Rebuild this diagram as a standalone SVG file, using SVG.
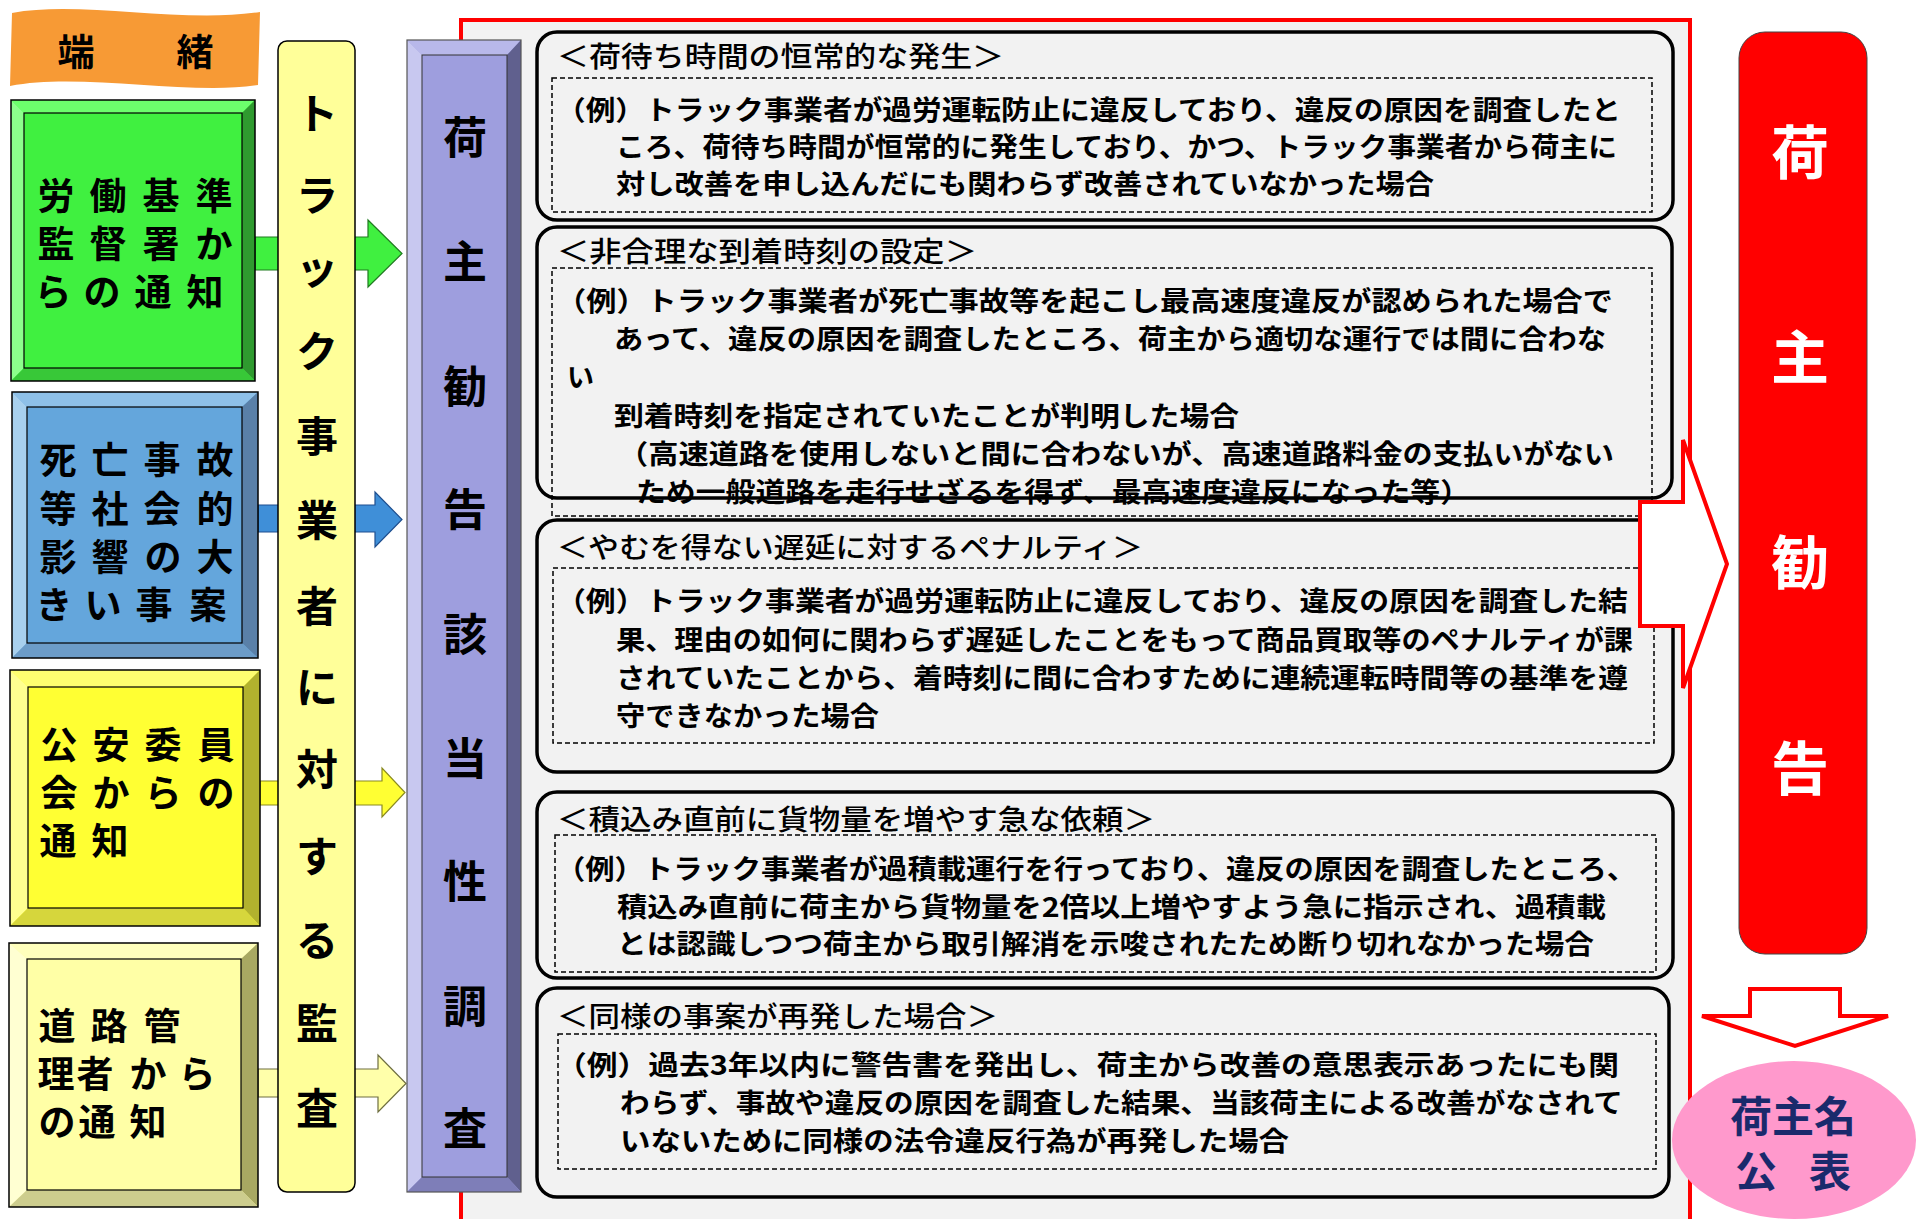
<svg xmlns="http://www.w3.org/2000/svg" width="1923" height="1219" viewBox="0 0 1923 1219">
<style>
.jp{font-family:"Noto Sans CJK JP","Noto Sans CJK SC",sans-serif;}
.lbl{font-size:37px;font-weight:bold;fill:#000;text-anchor:middle;}
.col{font-size:42px;font-weight:bold;fill:#000;text-anchor:middle;}
.pur{font-size:44px;font-weight:bold;fill:#000;text-anchor:middle;}
.red{font-size:58px;font-weight:bold;fill:#fff;text-anchor:middle;}
.hd{font-size:28px;font-weight:500;fill:#000;}
.bd{font-size:27px;font-weight:bold;fill:#000;}
.card{fill:#F2F2F2;stroke:#000;stroke-width:3.5;}
.dash{fill:none;stroke:#000;stroke-width:1.5;stroke-dasharray:5 3;}
.bev{stroke:none;}
.rarrow{fill:#fff;stroke:#FF0000;stroke-width:4;stroke-linejoin:miter;}
</style>

<!-- red panel -->
<g id="panel">
<rect x="461" y="20" width="1229" height="1230" fill="#F2F2F2" stroke="#FF0000" stroke-width="4"/>
</g>

<!-- connectors -->
<g id="connectors">
<polygon points="255,237 368,237 368,220 402,253.5 368,287 368,270 255,270" fill="#40F040" stroke="#1F7A1F" stroke-width="1.2"/>
<polygon points="258,505 375,505 375,492 402,519.5 375,547 375,532 258,532" fill="#3F8FD8" stroke="#1F4F8F" stroke-width="1.2"/>
<polygon points="260,781 382,781 382,768 405,792.5 382,817 382,805 260,805" fill="#FFFF33" stroke="#8A8A20" stroke-width="1.2"/>
<polygon points="258,1069 378,1069 378,1055 406,1083.5 378,1112 378,1097 258,1097" fill="#FFFFAA" stroke="#6E6E40" stroke-width="1.2"/>
</g>

<!-- banner -->
<g id="banner">
<path d="M12,13 C80,0 180,24 260,12 L258,85 C190,96 80,72 10,86 Z" fill="#F79A35"/>
<text class="jp lbl" x="76" y="66">端</text>
<text class="jp lbl" x="195" y="66">緒</text>
</g>

<!-- green box -->
<g id="node-roudou">
<rect x="11" y="100" width="244" height="281" fill="#40F040"/>
<polygon class="bev" points="11,100 255,100 242,113 24,113" fill="#6CFF6C"/>
<polygon class="bev" points="11,100 24,113 24,368 11,381" fill="#8CFF8C"/>
<polygon class="bev" points="255,100 255,381 242,368 242,113" fill="#2F9A2F"/>
<polygon class="bev" points="11,381 255,381 242,368 24,368" fill="#38C838"/>
<rect x="24" y="113" width="218" height="255" fill="none" stroke="#000" stroke-width="1.2"/>
<rect x="11" y="100" width="244" height="281" fill="none" stroke="#000" stroke-width="1.5"/>
<text class="jp lbl" x="56 108 161 214" y="210">労働基準</text>
<text class="jp lbl" x="56 108 161 214" y="258">監督署か</text>
<text class="jp lbl" x="53 102 153 205" y="306">らの通知</text>
</g>

<!-- blue box -->
<g id="node-shibou">
<rect x="12" y="392" width="246" height="266" fill="#64A6DC"/>
<polygon class="bev" points="12,392 258,392 242,407 27,407" fill="#8EC0E8"/>
<polygon class="bev" points="12,392 27,407 27,643 12,658" fill="#A8D0EE"/>
<polygon class="bev" points="258,392 258,658 242,643 242,407" fill="#5A80A8"/>
<polygon class="bev" points="12,658 258,658 242,643 27,643" fill="#6C9CC8"/>
<rect x="27" y="407" width="215" height="236" fill="none" stroke="#000" stroke-width="1.2"/>
<rect x="12" y="392" width="246" height="266" fill="none" stroke="#000" stroke-width="1.5"/>
<text class="jp lbl" x="58 110 162 215" y="474">死亡事故</text>
<text class="jp lbl" x="58 110 162 215" y="523">等社会的</text>
<text class="jp lbl" x="58 110 163 215" y="571">影響の大</text>
<text class="jp lbl" x="54 103 154 208" y="619">きい事案</text>
</g>

<!-- yellow box -->
<g id="node-kouan">
<rect x="10" y="670" width="250" height="256" fill="#FFFF33"/>
<polygon class="bev" points="10,670 260,670 243,687 28,687" fill="#FFFF70"/>
<polygon class="bev" points="10,670 28,687 28,908 10,926" fill="#FFFF90"/>
<polygon class="bev" points="260,670 260,926 243,908 243,687" fill="#B2B22E"/>
<polygon class="bev" points="10,926 260,926 243,908 28,908" fill="#D6D63C"/>
<rect x="28" y="687" width="215" height="221" fill="none" stroke="#000" stroke-width="1.2"/>
<rect x="10" y="670" width="250" height="256" fill="none" stroke="#000" stroke-width="1.5"/>
<text class="jp lbl" x="59 111 163 216" y="759">公安委員</text>
<text class="jp lbl" x="59 111 163 216" y="807">会からの</text>
<text class="jp lbl" x="58 110" y="855">通知</text>
</g>

<!-- road box -->
<g id="node-douro">
<rect x="9" y="943" width="249" height="264" fill="#FFFFA6"/>
<polygon class="bev" points="9,943 258,943 241,959 27,959" fill="#FFFFBC"/>
<polygon class="bev" points="9,943 27,959 27,1190 9,1207" fill="#FFFFD2"/>
<polygon class="bev" points="258,943 258,1207 241,1190 241,959" fill="#A8A862"/>
<polygon class="bev" points="9,1207 258,1207 241,1190 27,1190" fill="#CDCD8E"/>
<rect x="27" y="959" width="214" height="231" fill="none" stroke="#000" stroke-width="1.2"/>
<rect x="9" y="943" width="249" height="264" fill="none" stroke="#000" stroke-width="1.5"/>
<text class="jp lbl" x="57 109 162" y="1040">道路管</text>
<text class="jp lbl" x="56 95 148 197" y="1088">理者から</text>
<text class="jp lbl" x="57 97 148" y="1136">の通知</text>
</g>

<!-- yellow column -->
<g id="node-kansa">
<rect x="278" y="41" width="77" height="1151" rx="9" fill="#FFFF99" stroke="#000" stroke-width="1.5"/>
<text class="jp col" x="317" y="129">ト</text>
<text class="jp col" x="317" y="211">ラ</text>
<text class="jp col" x="317" y="284">ッ</text>
<text class="jp col" x="317" y="367">ク</text>
<text class="jp col" x="317" y="452">事</text>
<text class="jp col" x="317" y="536">業</text>
<text class="jp col" x="317" y="622">者</text>
<text class="jp col" x="317" y="703">に</text>
<text class="jp col" x="317" y="785">対</text>
<text class="jp col" x="317" y="872">す</text>
<text class="jp col" x="317" y="956">る</text>
<text class="jp col" x="317" y="1039">監</text>
<text class="jp col" x="317" y="1124">査</text>
</g>

<!-- purple column -->
<g id="node-chousa">
<rect x="407" y="40" width="114" height="1152" fill="#9E9EDE"/>
<polygon class="bev" points="407,40 521,40 507,55 422,55" fill="#B8B8EA"/>
<polygon class="bev" points="407,40 422,55 422,1177 407,1192" fill="#C8C8F0"/>
<polygon class="bev" points="521,40 521,1192 507,1177 507,55" fill="#60608E"/>
<polygon class="bev" points="407,1192 521,1192 507,1177 422,1177" fill="#7E7EB8"/>
<rect x="422" y="55" width="85" height="1122" fill="none" stroke="#333" stroke-width="1"/>
<rect x="407" y="40" width="114" height="1152" fill="none" stroke="#555" stroke-width="1.2"/>
<text class="jp pur" x="465" y="154">荷</text>
<text class="jp pur" x="465" y="278">主</text>
<text class="jp pur" x="465" y="403">勧</text>
<text class="jp pur" x="465" y="526">告</text>
<text class="jp pur" x="465" y="651">該</text>
<text class="jp pur" x="465" y="775">当</text>
<text class="jp pur" x="465" y="898">性</text>
<text class="jp pur" x="465" y="1023">調</text>
<text class="jp pur" x="465" y="1145">査</text>
</g>

<!-- case 1 -->
<g id="case-1">
<rect class="card" x="537" y="32" width="1136" height="188" rx="20"/>
<rect class="dash" x="552" y="78" width="1100" height="134"/>
<text class="jp hd" x="557" y="67" textLength="447" lengthAdjust="spacingAndGlyphs">＜荷待ち時間の恒常的な発生＞</text>
<text class="jp bd" x="556" y="120" textLength="1065" lengthAdjust="spacingAndGlyphs">（例）トラック事業者が過労運転防止に違反しており、違反の原因を調査したと</text>
<text class="jp bd" x="616" y="157" textLength="1001" lengthAdjust="spacingAndGlyphs">ころ、荷待ち時間が恒常的に発生しており、かつ、トラック事業者から荷主に</text>
<text class="jp bd" x="616" y="194" textLength="818" lengthAdjust="spacingAndGlyphs">対し改善を申し込んだにも関わらず改善されていなかった場合</text>
</g>

<!-- case 2 -->
<g id="case-2">
<rect class="card" x="537" y="227" width="1135" height="271" rx="20"/>
<rect class="dash" x="552" y="268" width="1100" height="248"/>
<text class="jp hd" x="557" y="262" textLength="420" lengthAdjust="spacingAndGlyphs">＜非合理な到着時刻の設定＞</text>
<text class="jp bd" x="556" y="311" textLength="1057" lengthAdjust="spacingAndGlyphs">（例）トラック事業者が死亡事故等を起こし最高速度違反が認められた場合で</text>
<text class="jp bd" x="614" y="349" textLength="992" lengthAdjust="spacingAndGlyphs">あって、違反の原因を調査したところ、荷主から適切な運行では間に合わな</text>
<text class="jp bd" x="567" y="387">い</text>
<text class="jp bd" x="614" y="426" textLength="625" lengthAdjust="spacingAndGlyphs">到着時刻を指定されていたことが判明した場合</text>
<text class="jp bd" x="618" y="464" textLength="996" lengthAdjust="spacingAndGlyphs">（高速道路を使用しないと間に合わないが、高速道路料金の支払いがない</text>
<text class="jp bd" x="636" y="502" textLength="834" lengthAdjust="spacingAndGlyphs">ため一般道路を走行せざるを得ず、最高速度違反になった等）</text>
</g>

<!-- case 3 -->
<g id="case-3">
<rect class="card" x="537" y="520" width="1136" height="252" rx="20"/>
<rect class="dash" x="553" y="568" width="1101" height="175"/>
<text class="jp hd" x="557" y="558" textLength="586" lengthAdjust="spacingAndGlyphs">＜やむを得ない遅延に対するペナルティ＞</text>
<text class="jp bd" x="556" y="611" textLength="1072" lengthAdjust="spacingAndGlyphs">（例）トラック事業者が過労運転防止に違反しており、違反の原因を調査した結</text>
<text class="jp bd" x="616" y="650" textLength="1017" lengthAdjust="spacingAndGlyphs">果、理由の如何に関わらず遅延したことをもって商品買取等のペナルティが課</text>
<text class="jp bd" x="616" y="688" textLength="1012" lengthAdjust="spacingAndGlyphs">されていたことから、着時刻に間に合わすために連続運転時間等の基準を遵</text>
<text class="jp bd" x="616" y="726" textLength="263" lengthAdjust="spacingAndGlyphs">守できなかった場合</text>
</g>

<!-- case 4 -->
<g id="case-4">
<rect class="card" x="537" y="792" width="1136" height="186" rx="20"/>
<rect class="dash" x="555" y="835" width="1101" height="137"/>
<text class="jp hd" x="557" y="830" textLength="598" lengthAdjust="spacingAndGlyphs">＜積込み直前に貨物量を増やす急な依頼＞</text>
<text class="jp bd" x="556" y="879" textLength="1080" lengthAdjust="spacingAndGlyphs">（例）トラック事業者が過積載運行を行っており、違反の原因を調査したところ、</text>
<text class="jp bd" x="617" y="917" textLength="989" lengthAdjust="spacingAndGlyphs">積込み直前に荷主から貨物量を2倍以上増やすよう急に指示され、過積載</text>
<text class="jp bd" x="617" y="954" textLength="977" lengthAdjust="spacingAndGlyphs">とは認識しつつ荷主から取引解消を示唆されたため断り切れなかった場合</text>
</g>

<!-- case 5 -->
<g id="case-5">
<rect class="card" x="537" y="988" width="1132" height="209" rx="20"/>
<rect class="dash" x="558" y="1034" width="1098" height="135"/>
<text class="jp hd" x="557" y="1027" textLength="441" lengthAdjust="spacingAndGlyphs">＜同様の事案が再発した場合＞</text>
<text class="jp bd" x="556" y="1075" textLength="1063" lengthAdjust="spacingAndGlyphs">（例）過去3年以内に警告書を発出し、荷主から改善の意思表示あったにも関</text>
<text class="jp bd" x="620" y="1113" textLength="1003" lengthAdjust="spacingAndGlyphs">わらず、事故や違反の原因を調査した結果、当該荷主による改善がなされて</text>
<text class="jp bd" x="620" y="1151" textLength="669" lengthAdjust="spacingAndGlyphs">いないために同様の法令違反行為が再発した場合</text>
</g>

<!-- big arrows -->
<g id="connectors-main">
<polygon class="rarrow" points="1640,502 1683,502 1683,440 1727,564 1683,688 1683,626 1640,626"/>
<polygon class="rarrow" points="1750,989 1840,989 1840,1016 1888,1016 1795,1046 1702,1016 1750,1016"/>
</g>

<!-- recommendation column -->
<g id="node-kankoku">
<rect x="1739" y="32" width="128" height="922" rx="26" fill="#FF0000" stroke="#444" stroke-width="1"/>
<text class="jp red" x="1800" y="174">荷</text>
<text class="jp red" x="1800" y="379">主</text>
<text class="jp red" x="1800" y="584">勧</text>
<text class="jp red" x="1800" y="790">告</text>
</g>

<!-- publication -->
<g id="node-kouhyou">
<ellipse cx="1794" cy="1140" rx="122" ry="79" fill="#FF99CC"/>
<text class="jp" x="1793" y="1132" font-size="42" font-weight="bold" fill="#1A2A6C" text-anchor="middle">荷主名</text>
<text class="jp" x="1756 1793 1830" y="1187" font-size="42" font-weight="bold" fill="#1A2A6C" text-anchor="middle">公　表</text>
</g>
</svg>
